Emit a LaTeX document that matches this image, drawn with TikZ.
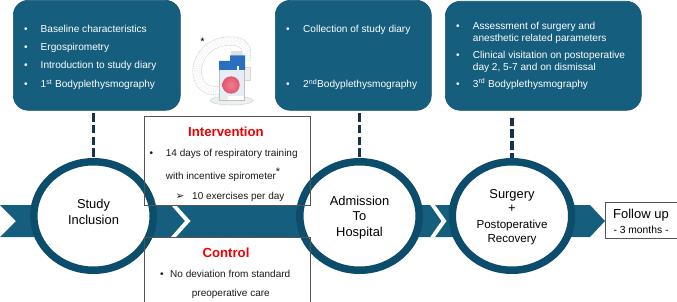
\documentclass[tikz,border=0pt]{standalone}
\usepackage{fontspec}
\setmainfont{Liberation Sans}
\newfontfamily\symfont{DejaVu Sans}
\usetikzlibrary{shapes.geometric}
\definecolor{panelblue}{HTML}{165E7E}
\definecolor{paneledge}{HTML}{145370}
\definecolor{ringblue}{HTML}{0C4D6B}
\definecolor{dashnavy}{HTML}{14344F}
\definecolor{boxedge}{HTML}{555555}
\definecolor{headred}{HTML}{F00000}
\definecolor{tubeedge}{HTML}{D4D8DA}
\definecolor{tubefill}{HTML}{EEF0F0}
\definecolor{capblue}{HTML}{2A6FC0}
\definecolor{ballpink}{HTML}{E4566F}
\definecolor{jarglass}{HTML}{E4EEF4}
\newcommand{\blt}[2][•]{\makebox[#2pt][l]{#1}}
\tikzset{
  panel/.style={rectangle, rounded corners=15pt, fill=panelblue, draw=paneledge, line width=.6pt, inner sep=0pt, anchor=north west},
  stagering/.style={ellipse, draw=ringblue, fill=white, line width=7.5pt, minimum width=119.5pt, minimum height=108.5pt, inner sep=0pt},
  linkdash/.style={draw=dashnavy, line width=3.5pt, dash pattern=on 8.5pt off 3.2pt},
  outline/.style={draw=boxedge, line width=.8pt},
  paneltext/.style={anchor=base west, inner sep=0pt, text=white, font=\fontsize{10.1}{12}\selectfont},
  bodytext/.style={anchor=base west, inner sep=0pt, text=black!90, font=\fontsize{10}{12}\selectfont},
  heading/.style={anchor=base, inner sep=0pt, text=headred, font=\fontsize{13.2}{15}\bfseries\selectfont},
  stagetext/.style={anchor=base, inner sep=0pt, text=black, font=\fontsize{12.9}{15}\selectfont},
  smallstage/.style={anchor=base, inner sep=0pt, text=black, font=\fontsize{11.6}{14}\selectfont},
}
\begin{document}
\begin{tikzpicture}[x=1pt,y=-1pt]
\useasboundingbox (0,0) rectangle (677,302);

% timeline band with its white chevrons
\fill[panelblue] (0,205) -- (590,205) -- (605,221) -- (590,237) -- (0,237) -- (16,221) -- cycle;
\fill[white] (171,205) -- (176,205) -- (190.5,221) -- (176,237) -- (171,237) -- (185,221) -- cycle;
\fill[white] (430.3,205) -- (435,205) -- (446.5,221) -- (435,237) -- (430.3,237) -- (441.5,221) -- cycle;

% white backing of the two study-arm boxes
\fill[white] (143.5,116.5) rectangle (309.5,204.5);
\fill[white] (143.5,237) rectangle (309.5,301.5);

% information panels
\node[panel, minimum width=167pt, minimum height=110pt] (panelA) at (13,0) {};
\node[panel, minimum width=156pt, minimum height=110pt] (panelB) at (275,0) {};
\node[panel, minimum width=196pt, minimum height=109pt] (panelC) at (445,1) {};

% stage rings
\node[stagering] (ringA) at (93.5,216) {};
\node[stagering] (ringB) at (359.5,216) {};
\node[stagering] (ringC) at (512,216) {};

% dashed links from the panels to the rings
\draw[linkdash] ([yshift=-2.7pt]panelA.south -| ringA.north) -- (ringA.north);
\draw[linkdash] ([yshift=-2.7pt]panelB.south -| ringB.north) -- (ringB.north);
\draw[linkdash] ([yshift=-7pt]panelC.south -| ringC.north) -- (ringC.north);

% outlines of the study-arm boxes and the follow-up box
\node[outline, rectangle, anchor=north west, inner sep=0pt, minimum width=166pt, minimum height=88pt] (armI) at (143.5,116.5) {};
\node[outline, rectangle, anchor=north west, inner sep=0pt, minimum width=166pt, minimum height=64.5pt] (armC) at (143.5,237) {};
\node[outline, rectangle, fill=white, anchor=north west, inner sep=0pt, minimum width=71.5pt, minimum height=36pt] (followbox) at (605,202) {};

% panel text
\node[paneltext] (a1) at (24,32.5) {\blt{16.5}Baseline characteristics};
\node[paneltext] (a2) at (24,51) {\blt{16.5}Ergospirometry};
\node[paneltext] (a3) at (24,69) {\blt{16.5}Introduction to study diary};
\node[paneltext] (a4) at (24,87.7) {\blt{16.5}1\textsuperscript{st} Bodyplethysmography};
\node[paneltext] (b1) at (286,32.5) {\blt{17}Collection of study diary};
\node[paneltext] (b2) at (286,87.7) {\blt{17}2\textsuperscript{nd}Bodyplethysmography};
\node[paneltext] (c1) at (456,29.5) {\blt{16.7}Assessment of surgery and};
\node[paneltext] (c2) at (472.7,42) {anesthetic related parameters};
\node[paneltext] (c3) at (456,58.5) {\blt{16.7}Clinical visitation on postoperative};
\node[paneltext] (c4) at (472.7,70.7) {day 2, 5-7 and on dismissal};
\node[paneltext] (c5) at (456,87.3) {\blt{16.7}3\textsuperscript{rd} Bodyplethysmography};

% study-arm text
\node[heading] (armIhead) at (226,137) {Intervention};
\node[bodytext] (i1) at (149.5,156.7) {\blt{16.2}14 days of respiratory training};
\node[bodytext] (i2) at (165.7,179) {with incentive spirometer\textsuperscript{\fontsize{11}{11}\selectfont *}};
\node[bodytext] (i3) at (175.5,199.3) {\blt[{\symfont\fontsize{10.5}{12}\selectfont ➢}]{16.5}10 exercises per day};
\node[heading] (armChead) at (226,257.7) {Control};
\node[bodytext] (k1) at (160,277.7) {\blt{10}No deviation from standard};
\node[bodytext] (k2) at (191.7,296) {preoperative care};

% ring text
\node[stagetext] (sa1) at (93.5,208) {Study};
\node[stagetext] (sa2) at (93.5,224) {Inclusion};
\node[stagetext] (sb1) at (359.5,205) {Admission};
\node[stagetext] (sb2) at (359.5,220.7) {To};
\node[stagetext] (sb3) at (359.5,236) {Hospital};
\node[stagetext] (sc1) at (512,198) {Surgery};
\node[stagetext] (sc2) at (512,212.7) {+};
\node[smallstage] (sc3) at (512,228.7) {Postoperative};
\node[smallstage] (sc4) at (512,242.7) {Recovery};

% follow-up text
\node[anchor=base, inner sep=0pt, font=\fontsize{13}{15}\selectfont] (f1) at (641,218) {Follow up};
\node[anchor=base, inner sep=0pt, font=\fontsize{10.3}{12}\selectfont] (f2) at (641,233) {- 3 months -};

% incentive spirometer
\node[anchor=center, inner sep=0pt, font=\fontsize{11}{11}\selectfont] (spstar) at (202.5,42) {*};
% base plate
\fill[tubefill, draw=tubeedge, line width=.6pt] (231.5,100.5) ellipse (21.5 and 4.5);
% breathing tube, with its ribbing
\draw[tubeedge, line width=9pt] (222,90) .. controls (207,93) and (198,86) .. (197,72) .. controls (197,55) and (211,41.5) .. (229,41) .. controls (242,40.5) and (249,46) .. (246,60);
\draw[tubefill, line width=7.8pt] (222,90) .. controls (207,93) and (198,86) .. (197,72) .. controls (197,55) and (211,41.5) .. (229,41) .. controls (242,40.5) and (249,46) .. (246,60);
\draw[white, line width=7.8pt, dash pattern=on 1.4pt off .8pt] (222,90) .. controls (207,93) and (198,86) .. (197,72) .. controls (197,55) and (211,41.5) .. (229,41) .. controls (242,40.5) and (249,46) .. (246,60);
% side port on the jar
\fill[tubefill, draw=tubeedge, line width=.4pt] (242,67) rectangle (250,80);
% jar
\fill[jarglass] (219,70) rectangle (244,100);
\draw[black!25, line width=.4pt] (219,70) -- (219,100) -- (244,100) -- (244,70);
\fill[white] (228,96) rectangle (244,100);
% mouthpiece stem and blue cap
\fill[black!12] (231,51) rectangle (242,58);
\fill[capblue] (219,61) -- (230,61) -- (230,55.5) -- (245,55.5) -- (245,70) -- (219,70) -- cycle;
\fill[white] (236.5,66) rectangle (239,70);
% indicator ball
\shade[inner color=ballpink!75!white, outer color=ballpink] (231,85) circle (8.7);
\end{tikzpicture}
\end{document}
